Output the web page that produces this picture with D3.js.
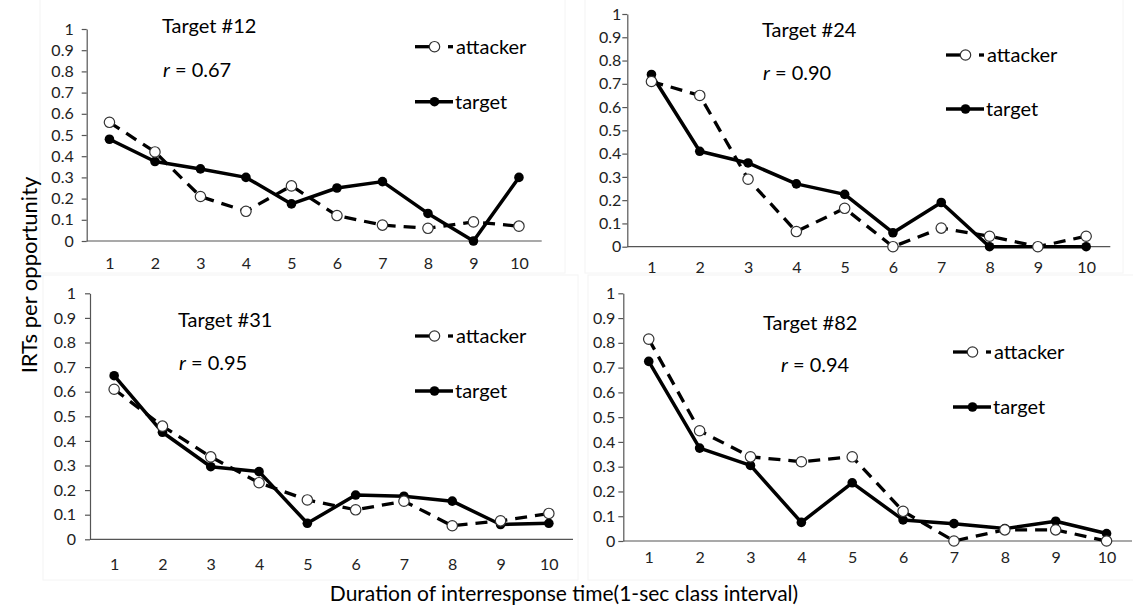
<!DOCTYPE html>
<html>
<head>
<meta charset="utf-8">
<script src="https://cdn.jsdelivr.net/npm/d3@7"></script>
<style>
  body { margin: 0; background: #fff; }
  svg { display: block; font-family: Lato, "Open Sans", sans-serif; }
  .tick text { fill: #222; }
</style>
</head>
<body>
<svg id="chart" width="1133" height="607"></svg>
<script>
// カテゴリ（1秒区間）と目盛り
var categories = [1, 2, 3, 4, 5, 6, 7, 8, 9, 10];
var yTicks = [0, 0.1, 0.2, 0.3, 0.4, 0.5, 0.6, 0.7, 0.8, 0.9, 1];

var panelTitles = ["Target #12", "Target #24", "Target #31", "Target #82"];
var rValues = ["0.67", "0.90", "0.95", "0.94"];
var seriesNames = ["attacker", "target"];

// 各パネルの値
var attacker12 = [0.56, 0.42, 0.21, 0.14, 0.26, 0.12, 0.075, 0.06, 0.09, 0.07];
var target12   = [0.48, 0.375, 0.34, 0.30, 0.175, 0.25, 0.28, 0.13, 0, 0.30];
var attacker24 = [0.71, 0.65, 0.29, 0.065, 0.165, 0, 0.08, 0.045, 0, 0.045];
var target24   = [0.74, 0.41, 0.36, 0.27, 0.225, 0.06, 0.19, 0, 0, 0];
var attacker31 = [0.61, 0.46, 0.335, 0.23, 0.16, 0.12, 0.155, 0.055, 0.075, 0.105];
var target31   = [0.665, 0.435, 0.295, 0.275, 0.065, 0.18, 0.175, 0.155, 0.06, 0.065];
var attacker82 = [0.815, 0.445, 0.34, 0.32, 0.34, 0.12, 0, 0.045, 0.045, 0];
var target82   = [0.725, 0.375, 0.305, 0.075, 0.235, 0.085, 0.07, 0.05, 0.08, 0.03];

var attackerData = [attacker12, attacker24, attacker31, attacker82];
var targetData = [target12, target24, target31, target82];

// パネル配置
var layout = [
  {x0: 86.7, x1: 541.7, yb: 241, yt: 29, pad: 17, lpad: 8,
   tx: 162, ty: 33, rx: 163, ry: 77, lx: 415, ly: 46.7, ldy: 55,
   box: [40, -1, 565, 273]},
  {x0: 627.3, x1: 1110.3, yb: 246.7, yt: 14, pad: 15, lpad: 1,
   tx: 762, ty: 37, rx: 763, ry: 80, lx: 946, ly: 55, ldy: 54,
   box: [585, -1, 1123, 273]},
  {x0: 90, x1: 573, yb: 539.3, yt: 293.3, pad: 19, lpad: 9,
   tx: 178, ty: 327, rx: 179, ry: 370, lx: 415, ly: 336, ldy: 55,
   box: [43, 275, 578, 580]},
  {x0: 623.3, x1: 1132, yb: 541, yt: 293.3, pad: 11, lpad: 3,
   tx: 763, ty: 330, rx: 781, ry: 372, lx: 953, ly: 352, ldy: 55,
   box: [588, 275, 1134, 580]}
];

var svg = d3.select("#chart");

function panel(i) {
  var L = layout[i];
  var g = svg.append("g");

  // 薄い枠
  g.append("rect")
    .attr("x", L.box[0]).attr("y", L.box[1])
    .attr("width", L.box[2] - L.box[0]).attr("height", L.box[3] - L.box[1])
    .attr("fill", "none").attr("stroke", "#f4f4f4");

  var x = d3.scalePoint().domain(categories).range([L.x0, L.x1]).padding(0.5);
  var y = d3.scaleLinear().domain([0, 1]).range([L.yb, L.yt]);

  var xAxis = d3.axisBottom(x).tickSize(0).tickSizeOuter(0).tickPadding(L.pad);
  var yAxis = d3.axisLeft(y).tickValues(yTicks).tickSize(5).tickSizeOuter(0)
    .tickPadding(L.lpad).tickFormat(function(d) { return String(d); });

  var gx = g.append("g").attr("transform", "translate(0," + L.yb + ")").call(xAxis);
  var gy = g.append("g").attr("transform", "translate(" + L.x0 + ",0)").call(yAxis);
  [gx, gy].forEach(function(a) {
    a.selectAll("path, line").attr("stroke", "#555").attr("stroke-width", 1.2);
    a.selectAll("text").attr("font-size", 16).attr("font-family", "Lato, sans-serif");
  });
  gx.select(".domain").attr("d", "M" + L.x0 + ",0H" + L.x1);

  var line = d3.line()
    .x(function(d, j) { return x(categories[j]); })
    .y(function(d) { return y(d); });

  // target（実線・黒丸）
  g.append("path").datum(targetData[i])
    .attr("d", line).attr("fill", "none")
    .attr("stroke", "#000").attr("stroke-width", 3.5).attr("stroke-linejoin", "round");
  // attacker（破線・白丸）
  g.append("path").datum(attackerData[i])
    .attr("d", line).attr("fill", "none")
    .attr("stroke", "#000").attr("stroke-width", 3.3)
    .attr("stroke-dasharray", "12,8");

  g.selectAll(".tdot").data(targetData[i]).enter().append("circle")
    .attr("cx", function(d, j) { return x(categories[j]); })
    .attr("cy", function(d) { return y(d); })
    .attr("r", 4.8).attr("fill", "#000");
  g.selectAll(".adot").data(attackerData[i]).enter().append("circle")
    .attr("cx", function(d, j) { return x(categories[j]); })
    .attr("cy", function(d) { return y(d); })
    .attr("r", 5.2).attr("fill", "#fff").attr("stroke", "#333").attr("stroke-width", 1.2);

  // タイトルと r
  g.append("text").attr("x", L.tx).attr("y", L.ty)
    .attr("font-size", 20).attr("fill", "#000").text(panelTitles[i]);
  var rt = g.append("text").attr("x", L.rx).attr("y", L.ry)
    .attr("font-size", 20).attr("fill", "#000");
  rt.append("tspan").attr("font-style", "italic").text("r");
  rt.append("tspan").text(" = " + rValues[i]);

  // 凡例
  var la = L.ly, lt = L.ly + L.ldy;
  g.append("line").attr("x1", L.lx).attr("x2", L.lx + 15).attr("y1", la).attr("y2", la)
    .attr("stroke", "#000").attr("stroke-width", 3.3);
  g.append("line").attr("x1", L.lx + 33).attr("x2", L.lx + 38).attr("y1", la).attr("y2", la)
    .attr("stroke", "#000").attr("stroke-width", 3.3);
  g.append("circle").attr("cx", L.lx + 19.5).attr("cy", la).attr("r", 5.2)
    .attr("fill", "#fff").attr("stroke", "#333").attr("stroke-width", 1.2);
  g.append("text").attr("x", L.lx + 41).attr("y", la).attr("dy", "0.35em")
    .attr("font-size", 20).attr("fill", "#000").text(seriesNames[0]);

  g.append("line").attr("x1", L.lx).attr("x2", L.lx + 38).attr("y1", lt).attr("y2", lt)
    .attr("stroke", "#000").attr("stroke-width", 3.5);
  g.append("circle").attr("cx", L.lx + 19.5).attr("cy", lt).attr("r", 4.8).attr("fill", "#000");
  g.append("text").attr("x", L.lx + 40).attr("y", lt).attr("dy", "0.35em")
    .attr("font-size", 20).attr("fill", "#000").text(seriesNames[1]);
}

for (var i = 0; i < 4; i++) {
  panel(i);
}

// 共通の軸タイトル
svg.append("text")
  .attr("transform", "translate(29,275) rotate(-90)")
  .attr("text-anchor", "middle").attr("dy", "0.35em")
  .attr("font-size", 22).attr("fill", "#000")
  .text("IRTs per opportunity");

svg.append("text")
  .attr("x", 564).attr("y", 594).attr("dy", "0.35em")
  .attr("text-anchor", "middle")
  .attr("font-size", 21).attr("fill", "#000")
  .text("Duration of interresponse time(1-sec class interval)");
</script>
</body>
</html>
